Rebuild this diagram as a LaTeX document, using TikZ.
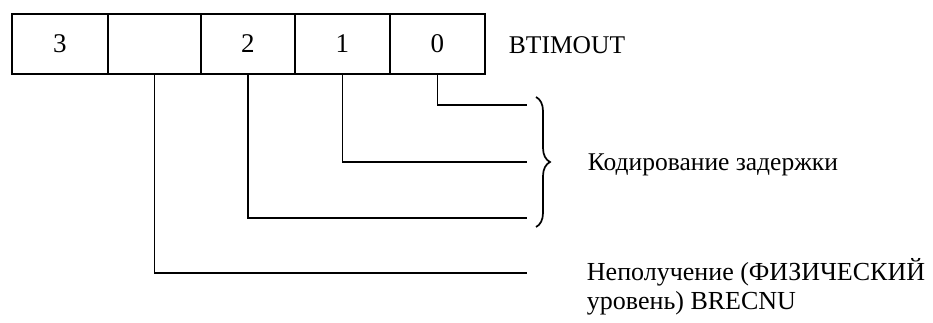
\documentclass[tikz,border=0pt]{standalone}
\usepackage{fontspec}
\setmainfont{Liberation Serif}
\usetikzlibrary{decorations.pathreplacing}
\begin{document}
\begin{tikzpicture}[x=1pt,y=-1pt,line width=1.9pt,
  cell/.style={draw,minimum height=60pt,inner sep=0pt,anchor=north west,font=\fontsize{27}{30}\selectfont},
  lbl/.style={font=\fontsize{25.5}{29}\selectfont,anchor=west,inner sep=0pt},
  wire/.style={line width=1.9pt}]
\useasboundingbox (0,0) rectangle (933,322);
\node[cell,minimum width=96pt] (c3) at (11,13) {3};
\node[cell,minimum width=93pt] (ce) at (107,13) {};
\node[cell,minimum width=94pt] (c2) at (200,13) {2};
\node[cell,minimum width=95pt] (c1) at (294,13) {1};
\node[cell,minimum width=95pt] (c0) at (389,13) {0};
\node[lbl] (bt) at (508,45) {BTIMOUT};
\coordinate (e0) at (527,105);
\coordinate (e1) at (527,162);
\coordinate (e2) at (527,218);
\coordinate (e3) at (527,273);
\draw[wire] (c0.south) |- (e0);
\draw[wire] (c1.south) |- (e1);
\draw[wire] (c2.south) |- (e2);
\draw[wire] (ce.south) |- (e3);
\coordinate (bt1) at (536,97);
\coordinate (bt2) at (536,227);
\draw[line width=1.7pt,decorate,decoration={brace,amplitude=14pt}] (bt1) -- (bt2);
\node[lbl] (kod) at (587,165) {Кодирование задержки};
\node[font=\fontsize{26}{29}\selectfont,anchor=north west,inner sep=0pt,align=left] (nep) at (586,258) {Неполучение (ФИЗИЧЕСКИЙ\\уровень) BRECNU};
\end{tikzpicture}
\end{document}
